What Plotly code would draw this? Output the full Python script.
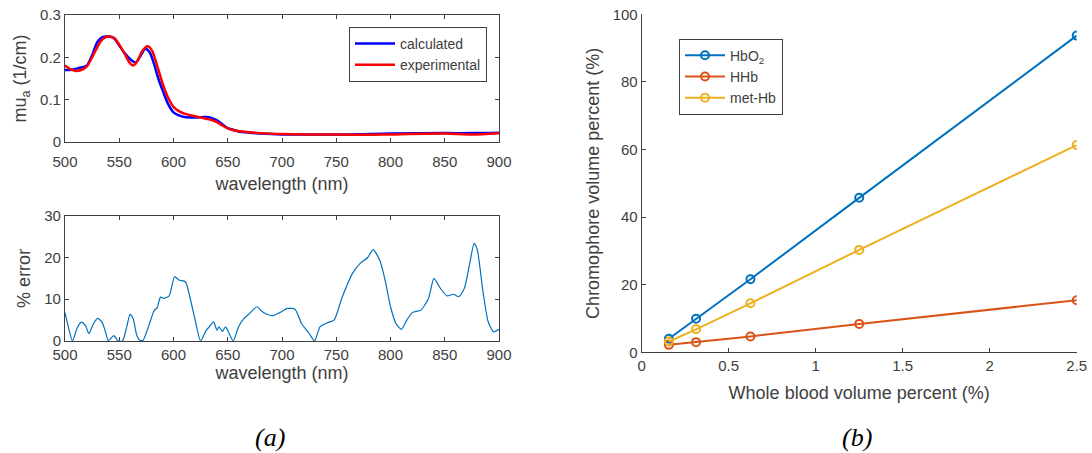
import plotly.graph_objects as go

# ---- (a) top: absorption coefficient ----
wl_calc = [500, 505, 510, 515, 520, 525, 530, 535, 540, 545, 550, 555, 560, 565, 570, 574, 578, 582, 586, 590, 595,
           600, 605, 610, 620, 630, 635, 640, 645, 650, 655, 660, 670, 680, 700, 720, 750, 780, 800, 850, 880, 900]
mu_calc = [0.170, 0.170, 0.173, 0.176, 0.180, 0.205, 0.237, 0.248, 0.249, 0.246, 0.228, 0.210, 0.196, 0.188, 0.205,
           0.220, 0.212, 0.185, 0.150, 0.122, 0.090, 0.070, 0.063, 0.059, 0.058, 0.059, 0.057, 0.051, 0.042, 0.033,
           0.029, 0.025, 0.022, 0.020, 0.018, 0.018, 0.0175, 0.019, 0.020, 0.021, 0.021, 0.022]
wl_exp = [500, 505, 510, 515, 520, 525, 530, 535, 541, 546, 550, 555, 560, 563, 567, 571, 576, 580, 585, 590, 595,
          600, 605, 610, 620, 630, 635, 640, 645, 650, 655, 660, 670, 680, 700, 720, 750, 780, 800, 850, 875, 900]
mu_exp = [0.181, 0.172, 0.168, 0.170, 0.178, 0.200, 0.225, 0.244, 0.249, 0.244, 0.230, 0.208, 0.186, 0.181, 0.192,
          0.214, 0.226, 0.217, 0.180, 0.138, 0.105, 0.083, 0.073, 0.067, 0.061, 0.055, 0.052, 0.047, 0.039, 0.032,
          0.028, 0.026, 0.023, 0.021, 0.019, 0.018, 0.0175, 0.017, 0.018, 0.020, 0.018, 0.021]

# ---- (a) bottom: % error ----
wl_err = [500, 503, 507, 511, 515, 519, 522, 526, 530, 534, 537, 540, 545, 549, 553, 557, 560, 563, 566, 569, 572,
          575, 578, 582, 585, 588, 591, 596, 601, 605, 611, 615, 620, 625, 630, 633, 637, 640, 642, 645, 648, 652,
          655, 660, 665, 670, 677, 681, 686, 692, 698, 705, 712, 718, 725, 730, 735, 742, 748, 755, 765, 772, 779,
          784, 790, 795, 800, 805, 810, 815, 820, 828, 835, 840, 846, 852, 858, 863, 868, 873, 877, 880, 885, 890,
          895, 900]
err = [6.8, 3.5, 0.0, 3.0, 4.5, 3.6, 1.8, 4.0, 5.4, 4.6, 2.5, 0.1, 1.3, 0.0, 0.0, 3.5, 6.4, 5.2, 1.5, 0.2, 0.2,
       2.0, 4.2, 7.2, 8.0, 10.5, 10.2, 10.8, 15.4, 14.6, 14.2, 10.6, 5.0, 0.0, 2.5, 3.4, 4.6, 2.6, 3.4, 2.3, 3.4,
       1.4, 0.0, 3.4, 5.4, 6.6, 8.2, 7.2, 6.4, 6.1, 6.8, 7.8, 7.6, 4.2, 1.8, 0.0, 3.4, 4.4, 5.0, 10.2, 16.2, 18.6,
       20.0, 21.9, 19.4, 14.6, 8.2, 4.2, 2.8, 5.0, 6.8, 7.4, 10.2, 15.0, 12.6, 10.8, 11.2, 10.6, 12.6, 18.6, 23.4,
       21.8, 12.2, 4.6, 2.2, 2.8]

# ---- (b) chromophore volume ----
blood_pct = [0.15625, 0.3125, 0.625, 1.25, 2.5]
hbo2 = [4.0, 9.9, 21.6, 45.7, 93.7]
hhb = [2.2, 3.0, 4.7, 8.4, 15.4]
methb = [3.2, 6.8, 14.5, 30.3, 61.3]

AX = "#404040"
FONT = "Liberation Sans, Arial, sans-serif"

fig = go.Figure()

fig.add_trace(go.Scatter(x=wl_calc, y=mu_calc, mode="lines", name="calculated",
                         line=dict(color="#0000FF", width=2.5, shape="spline", smoothing=0.8),
                         xaxis="x", yaxis="y", legend="legend"))
fig.add_trace(go.Scatter(x=wl_exp, y=mu_exp, mode="lines", name="experimental",
                         line=dict(color="#FF0000", width=2.5, shape="spline", smoothing=0.8),
                         xaxis="x", yaxis="y", legend="legend"))
fig.add_trace(go.Scatter(x=wl_err, y=err, mode="lines", showlegend=False,
                         line=dict(color="#0072BD", width=1.2, shape="spline", smoothing=0.6),
                         xaxis="x2", yaxis="y2"))

for name, ys, col in [("HbO<sub>2</sub>", hbo2, "#0072BD"), ("HHb", hhb, "#D95319"), ("met-Hb", methb, "#EDB120")]:
    fig.add_trace(go.Scatter(x=blood_pct, y=ys, mode="lines+markers", name=name,
                             line=dict(color=col, width=2),
                             marker=dict(symbol="circle-open", size=8, color=col, line=dict(width=2)),
                             xaxis="x3", yaxis="y3", legend="legend2"))

base = dict(showgrid=False, zeroline=False, showline=True, linecolor=AX, linewidth=1, automargin=False,
            ticks="inside", ticklen=4, tickcolor=AX, tickfont=dict(family=FONT, size=15, color=AX))
boxed = dict(base, mirror="ticks")
open_ax = dict(base, mirror=False)
tfont = dict(family=FONT, size=18, color=AX)

fig.update_layout(
    width=1092, height=453, margin=dict(l=0, r=0, t=0, b=0, autoexpand=False),
    paper_bgcolor="white", plot_bgcolor="white",
    font=dict(family=FONT, color=AX),
    xaxis=dict(domain=[0.0595, 0.457], range=[500, 900], tickvals=list(range(500, 901, 50)),
               anchor="y", ticklabelstandoff=6,
               title=dict(text="wavelength (nm)", font=tfont, standoff=8), **boxed),
    yaxis=dict(domain=[0.6865, 0.9669], range=[0, 0.3], tickvals=[0, 0.1, 0.2, 0.3],
               ticktext=["0", "0.1", "0.2", "0.3"], anchor="x",
               title=dict(text="mu<sub>a</sub> (1/cm)", font=tfont, standoff=8), **boxed),
    xaxis2=dict(domain=[0.0595, 0.457], range=[500, 900], tickvals=list(range(500, 901, 50)),
                anchor="y2", title=dict(text="wavelength (nm)", font=tfont, standoff=4), **boxed),
    yaxis2=dict(domain=[0.2472, 0.5238], range=[0, 30], tickvals=[0, 10, 20, 30], anchor="x2",
                title=dict(text="% error", font=tfont, standoff=8), **boxed),
    xaxis3=dict(domain=[0.5876, 0.986], range=[0, 2.5], tickvals=[0, 0.5, 1, 1.5, 2, 2.5],
                ticktext=["0", "0.5", "1", "1.5", "2", "2.5"], anchor="y3",
                title=dict(text="Whole blood volume percent (%)", font=tfont, standoff=13), **open_ax),
    yaxis3=dict(domain=[0.2223, 0.9684], range=[0, 100], tickvals=[0, 20, 40, 60, 80, 100], anchor="x3",
                title=dict(text="Chromophore volume percent (%)", font=tfont, standoff=8), **open_ax),
    legend=dict(x=0.3196, y=0.9404, xanchor="left", yanchor="top", bgcolor="white",
                bordercolor=AX, borderwidth=1, font=dict(family=FONT, size=14, color=AX),
                itemwidth=40, tracegroupgap=0),
    legend2=dict(x=0.6218, y=0.9146, xanchor="left", yanchor="top", bgcolor="white",
                 bordercolor=AX, borderwidth=1, font=dict(family=FONT, size=14, color=AX),
                 itemwidth=40, tracegroupgap=0),
    annotations=[
        dict(text="<i>(a)</i>", x=270 / 1092, y=1 - 437 / 453, xref="paper", yref="paper", showarrow=False,
             xanchor="center", yanchor="middle",
             font=dict(family="Liberation Serif, Times New Roman, serif", size=26, color="black")),
        dict(text="<i>(b)</i>", x=857 / 1092, y=1 - 437 / 453, xref="paper", yref="paper", showarrow=False,
             xanchor="center", yanchor="middle",
             font=dict(family="Liberation Serif, Times New Roman, serif", size=26, color="black")),
    ],
)

fig.write_html("out.html")
